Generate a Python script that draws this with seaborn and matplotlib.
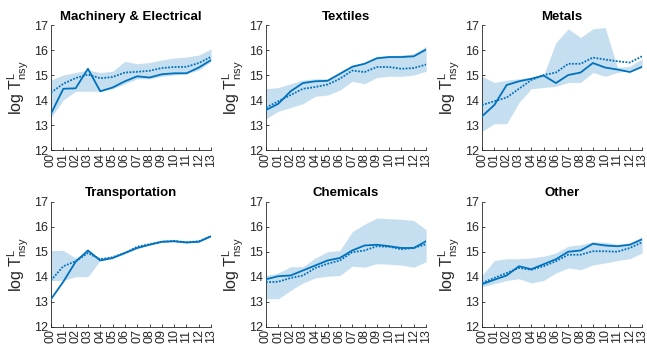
import numpy as np
import pandas as pd
import matplotlib
matplotlib.use('Agg')
import matplotlib.pyplot as plt
import seaborn as sns

# years shown on the x axis
years = ['00', '01', '02', '03', '04', '05', '06', '07', '08', '09', '10', '11', '12', '13']

titles = ['Machinery & Electrical', 'Textiles', 'Metals',
          'Transportation', 'Chemicals', 'Other']

# solid line (estimate), dotted line (alternative), band lower / upper
mach_solid = [13.45, 14.45, 14.47, 15.25, 14.35, 14.5, 14.75, 14.95, 14.9, 15.03, 15.07, 15.07, 15.3, 15.6]
mach_dot = [14.3, 14.65, 14.88, 15.02, 14.87, 14.92, 15.1, 15.13, 15.17, 15.28, 15.32, 15.33, 15.48, 15.73]
mach_lo = [13.3, 14.0, 14.35, 14.35, 14.35, 14.45, 14.65, 14.85, 14.85, 14.95, 15.0, 15.05, 15.2, 15.55]
mach_hi = [14.8, 15.0, 15.1, 15.2, 15.1, 15.15, 15.55, 15.45, 15.5, 15.6, 15.68, 15.72, 15.8, 16.05]

text_solid = [13.6, 13.85, 14.35, 14.68, 14.75, 14.77, 15.05, 15.33, 15.45, 15.67, 15.72, 15.72, 15.75, 16.02]
text_dot = [13.7, 13.95, 14.2, 14.45, 14.52, 14.62, 14.85, 15.18, 15.12, 15.32, 15.32, 15.25, 15.28, 15.42]
text_lo = [13.25, 13.55, 13.7, 13.85, 14.15, 14.2, 14.4, 14.75, 14.65, 14.9, 14.95, 14.95, 15.0, 15.15]
text_hi = [14.45, 14.5, 14.65, 14.8, 14.85, 14.85, 15.1, 15.4, 15.5, 15.75, 15.78, 15.8, 15.85, 16.15]

metal_solid = [13.35, 13.8, 14.6, 14.75, 14.85, 14.98, 14.68, 15.0, 15.1, 15.48, 15.3, 15.22, 15.12, 15.33]
metal_dot = [13.8, 13.95, 14.1, 14.45, 14.8, 15.0, 15.1, 15.45, 15.45, 15.7, 15.62, 15.55, 15.5, 15.75]
metal_lo = [12.75, 13.05, 13.05, 13.9, 14.45, 14.5, 14.55, 14.7, 14.7, 15.1, 14.95, 15.1, 15.2, 15.3]
metal_hi = [14.95, 14.7, 14.8, 14.85, 14.9, 15.0, 16.3, 16.85, 16.5, 16.85, 16.9, 15.3, 15.35, 15.65]

trans_solid = [13.1, 13.8, 14.6, 15.05, 14.65, 14.75, 14.95, 15.15, 15.28, 15.4, 15.42, 15.37, 15.4, 15.62]
trans_dot = [13.85, 14.42, 14.62, 14.95, 14.7, 14.78, 14.95, 15.2, 15.3, 15.4, 15.43, 15.38, 15.42, 15.62]
trans_lo = [13.85, 13.85, 14.0, 14.0, 14.65, 14.72, 14.92, 15.13, 15.27, 15.38, 15.4, 15.35, 15.38, 15.6]
trans_hi = [15.05, 15.05, 14.75, 15.0, 14.75, 14.8, 14.98, 15.22, 15.32, 15.42, 15.47, 15.4, 15.45, 15.65]

chem_solid = [13.9, 14.02, 14.05, 14.25, 14.45, 14.65, 14.75, 15.05, 15.25, 15.28, 15.22, 15.15, 15.15, 15.42]
chem_dot = [13.78, 13.8, 13.95, 14.05, 14.35, 14.52, 14.65, 14.98, 15.05, 15.22, 15.2, 15.1, 15.15, 15.3]
chem_lo = [13.12, 13.12, 13.45, 13.75, 13.95, 14.02, 14.05, 14.42, 14.38, 14.52, 14.5, 14.47, 14.38, 14.6]
chem_hi = [14.05, 14.15, 14.4, 14.4, 14.75, 15.0, 15.05, 15.8, 16.1, 16.35, 16.32, 16.3, 16.25, 15.88]

other_solid = [13.7, 13.88, 14.05, 14.42, 14.3, 14.5, 14.7, 15.0, 15.05, 15.32, 15.25, 15.22, 15.28, 15.5]
other_dot = [13.75, 13.95, 14.15, 14.35, 14.28, 14.42, 14.62, 14.88, 14.88, 15.02, 15.02, 15.0, 15.15, 15.38]
other_lo = [13.6, 13.72, 13.85, 13.92, 13.75, 13.85, 14.15, 14.35, 14.28, 14.47, 14.55, 14.65, 14.72, 14.95]
other_hi = [14.05, 14.65, 14.72, 14.72, 14.75, 14.82, 14.95, 15.22, 15.28, 15.4, 15.38, 15.3, 15.35, 15.58]

panels = [
    (mach_solid, mach_dot, mach_lo, mach_hi),
    (text_solid, text_dot, text_lo, text_hi),
    (metal_solid, metal_dot, metal_lo, metal_hi),
    (trans_solid, trans_dot, trans_lo, trans_hi),
    (chem_solid, chem_dot, chem_lo, chem_hi),
    (other_solid, other_dot, other_lo, other_hi),
]

sns.set_style('ticks')
plt.rcParams['font.family'] = ['Liberation Sans', 'DejaVu Sans']
plt.rcParams['mathtext.fontset'] = 'custom'
plt.rcParams['mathtext.rm'] = 'Liberation Sans'

line_color = '#0072BD'
band_color = '#c6dff0'
grey = '#262626'

fig = plt.figure(figsize=(6.47, 3.49), dpi=100)

# axes positions (left, bottom) for the 2x3 grid
lefts = [0.0788, 0.4111, 0.745]
bottoms = [0.5702, 0.0639]
w, h = 0.2475, 0.358

x = np.arange(len(years))
for k, (title, (solid, dot, lo, hi)) in enumerate(zip(titles, panels)):
    ax = fig.add_axes([lefts[k % 3], bottoms[k // 3], w, h])
    ax.fill_between(x, lo, hi, color=band_color, linewidth=0, zorder=1)
    df = pd.DataFrame({'x': x, 'solid': solid, 'dot': dot})
    sns.lineplot(data=df, x='x', y='dot', ax=ax, color=line_color,
                 linestyle=(0, (1, 0.8)), linewidth=1.3, zorder=3)
    sns.lineplot(data=df, x='x', y='solid', ax=ax, color=line_color,
                 linewidth=1.3, zorder=4)
    ax.set_xlim(0, 13)
    ax.set_ylim(12, 17)
    ax.set_xticks(x)
    ax.set_xticklabels(years, rotation=90)
    ax.set_yticks([12, 13, 14, 15, 16, 17])
    ax.set_xlabel('')
    ax.set_ylabel(r'log T$^{\mathrm{L}}_{\mathrm{nsy}}$', fontsize=11.5, color=grey, labelpad=2)
    ax.set_title(title, fontsize=9.5, fontweight='bold', pad=4, color='black')
    ax.tick_params(direction='in', length=2.5, width=0.6, labelsize=9,
                   colors=grey, pad=2)
    for s in ['top', 'right']:
        ax.spines[s].set_visible(False)
    for s in ['left', 'bottom']:
        ax.spines[s].set_color(grey)
        ax.spines[s].set_linewidth(0.6)

plt.savefig('out.png', dpi=100)
plt.close()
